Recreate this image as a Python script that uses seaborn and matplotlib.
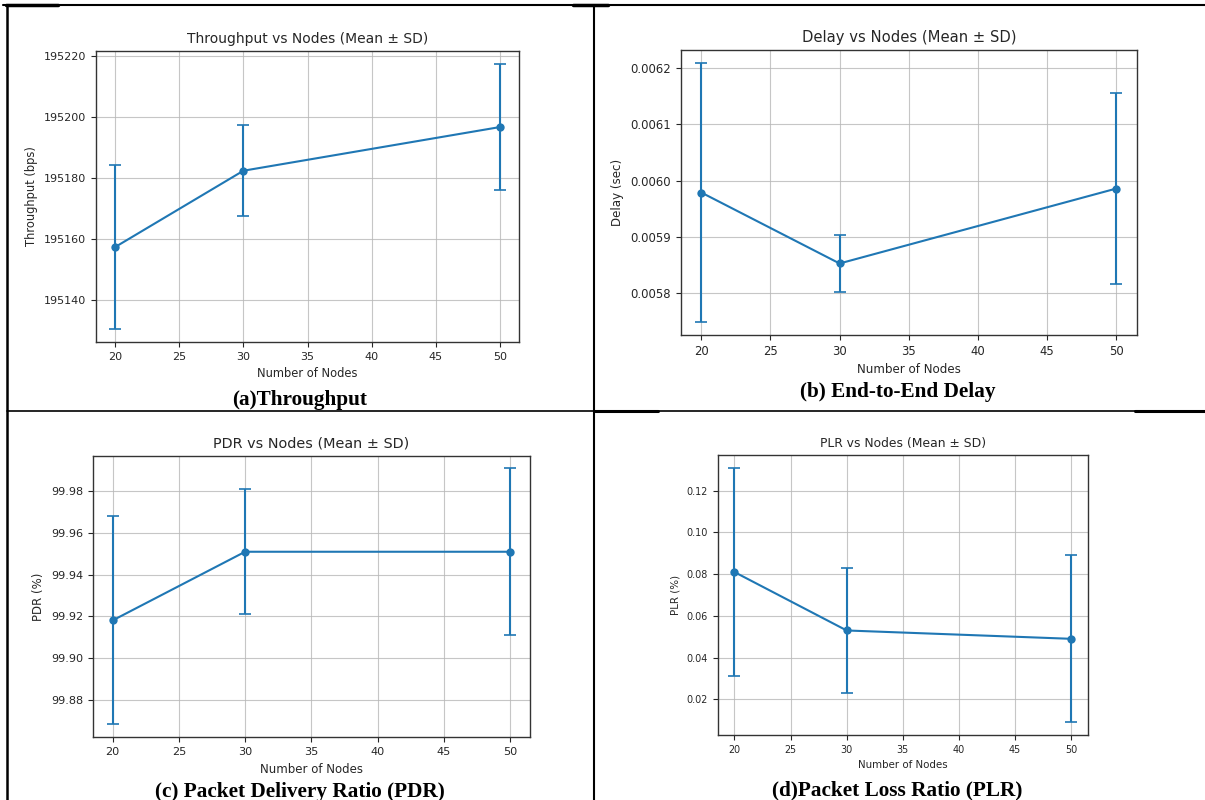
import matplotlib
matplotlib.use("Agg")
import matplotlib.pyplot as plt
from matplotlib.lines import Line2D
import seaborn as sns

W, H = 1205, 800

nodes = [20, 30, 50]

throughput_mean = [195157.5, 195182.5, 195196.8]
throughput_sd = [26.8, 15.0, 20.6]

delay_mean = [0.005979, 0.005853, 0.005986]
delay_sd = [0.000230, 0.000050, 0.000170]

pdr_mean = [99.918, 99.951, 99.951]
pdr_sd = [0.050, 0.030, 0.040]

plr_mean = [0.081, 0.053, 0.049]
plr_sd = [0.050, 0.030, 0.040]

titles = ["Throughput vs Nodes (Mean \u00b1 SD)", "Delay vs Nodes (Mean \u00b1 SD)",
          "PDR vs Nodes (Mean \u00b1 SD)", "PLR vs Nodes (Mean \u00b1 SD)"]
ylabels = ["Throughput (bps)", "Delay (sec)", "PDR (%)", "PLR (%)"]
captions = ["(a)Throughput", "(b) End-to-End Delay",
            "(c) Packet Delivery Ratio (PDR)", "(d)Packet Loss Ratio (PLR)"]

sns.set_style("ticks")
plt.rcParams["font.family"] = ["DejaVu Sans"]

fig = plt.figure(figsize=(W / 100, H / 100), dpi=100)
fig.patch.set_facecolor("white")

# axes boxes in pixels: left, right, top, bottom
boxes = [(96, 519, 51, 342), (680.5, 1137, 50, 335),
         (92.7, 530, 455.7, 737.3), (717.6, 1088, 455, 735)]
# font sizes per panel: title, label, ticks
fonts = [(10.0, 8.3, 8.0), (10.6, 8.6, 8.4), (10.4, 8.5, 8.1), (8.9, 7.4, 6.9)]
caption_pos = [(300, 400), (898, 392), (300, 792), (897, 790)]

series = [(throughput_mean, throughput_sd), (delay_mean, delay_sd),
          (pdr_mean, pdr_sd), (plr_mean, plr_sd)]

blue = "#1f77b4"

for i, (mean, sd) in enumerate(series):
    l, r, t, b = boxes[i]
    ax = fig.add_axes([l / W, 1 - b / H, (r - l) / W, (b - t) / H])
    ax.errorbar(nodes, mean, yerr=sd, fmt="none", ecolor=blue,
                elinewidth=1.5, capsize=4, capthick=1.2, zorder=3)
    sns.lineplot(x=nodes, y=mean, ax=ax, color=blue, marker="o",
                 markersize=6, markeredgewidth=0, linewidth=1.5, zorder=4)
    fs_t, fs_l, fs_k = fonts[i]
    ax.set_title(titles[i], fontsize=fs_t)
    ax.set_xlabel("Number of Nodes", fontsize=fs_l)
    ax.set_ylabel(ylabels[i], fontsize=fs_l)
    ax.tick_params(labelsize=fs_k)
    ax.ticklabel_format(axis="y", useOffset=False, style="plain")
    ax.set_xticks([20, 25, 30, 35, 40, 45, 50])
    ax.grid(True, color="#b8b8b8", linewidth=0.8, alpha=0.8)
    for sp in ax.spines.values():
        sp.set_color("#333333")
        sp.set_linewidth(1.0)
    cx, cy = caption_pos[i]
    fig.text(cx / W, 1 - cy / H, captions[i], ha="center", va="center",
             fontsize=15.3, fontweight="bold", color="black",
             family="Liberation Serif")

# table borders
def hline(y, x0, x1, lw=1.5):
    fig.add_artist(Line2D([x0 / W, x1 / W], [1 - y / H, 1 - y / H],
                          color="black", linewidth=lw, transform=fig.transFigure))

def vline(x, y0, y1, lw=1.2):
    fig.add_artist(Line2D([x / W, x / W], [1 - y0 / H, 1 - y1 / H],
                          color="black", linewidth=lw, transform=fig.transFigure))

hline(4.5, 3, 1205)
hline(5, 6, 58, lw=2.5)
hline(5, 573, 608, lw=2.5)
hline(410.5, 7, 1205, lw=1.2)
hline(410.5, 595, 658, lw=2.2)
hline(410.5, 1135, 1205, lw=2.2)
vline(7, 5, 800, lw=1.8)
vline(594, 5, 800, lw=1.5)

fig.savefig("out.png", dpi=100, facecolor="white")
